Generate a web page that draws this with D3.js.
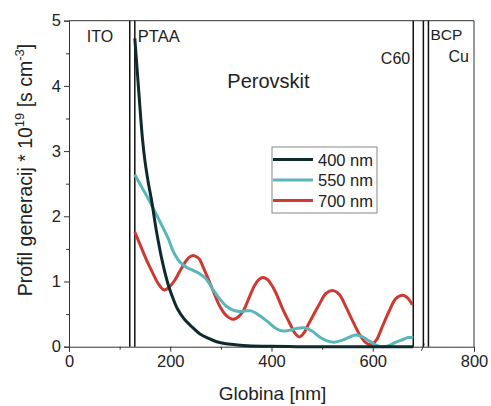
<!DOCTYPE html>
<html>
<head>
<meta charset="utf-8">
<script src="https://cdn.jsdelivr.net/npm/d3@7"></script>
<style>
  body { margin: 0; background: #fff; }
  svg text { font-family: "Liberation Sans", Arial, sans-serif; fill: #222; }
</style>
</head>
<body>
<script>
// depth [nm] and generation profile values
const depth400 = [130, 137, 145, 150, 157, 163, 173, 186, 196, 205, 215, 228, 242, 258, 275, 290, 307, 330, 353, 400, 450, 500, 680];
const gen400 = [4.73, 4.0, 3.2, 2.85, 2.5, 2.25, 1.76, 1.25, 0.95, 0.75, 0.57, 0.42, 0.31, 0.2, 0.13, 0.08, 0.05, 0.03, 0.015, 0.005, 0.001, 0, 0];

const depth550 = [130, 145, 160, 173, 186, 196, 206, 219, 232, 245, 258, 271, 284, 297, 311, 324, 337, 350, 360, 372, 383, 396, 409, 422, 435, 449, 465, 480, 495, 510, 524, 540, 555, 567, 580, 595, 608, 620, 633, 646, 660, 670, 680];
const gen550 = [2.64, 2.43, 2.22, 2.02, 1.82, 1.66, 1.46, 1.30, 1.22, 1.17, 1.12, 1.04, 0.88, 0.74, 0.62, 0.56, 0.54, 0.55, 0.55, 0.50, 0.44, 0.36, 0.28, 0.24, 0.25, 0.28, 0.29, 0.24, 0.15, 0.09, 0.07, 0.10, 0.15, 0.18, 0.15, 0.08, 0.02, 0.0, 0.02, 0.07, 0.11, 0.14, 0.14];

const depth700 = [130, 146, 156, 166, 176, 188, 199, 209, 219, 229, 237, 245, 252, 258, 265, 275, 284, 296, 307, 317, 326, 335, 345, 353, 366, 375, 383, 392, 400, 409, 422, 436, 446, 455, 464, 472, 481, 495, 508, 522, 534, 547, 560, 573, 585, 596, 607, 619, 632, 646, 659, 670, 678];
const gen700 = [1.76, 1.46, 1.28, 1.12, 0.97, 0.87, 0.92, 1.02, 1.16, 1.29, 1.37, 1.40, 1.38, 1.34, 1.22, 1.04, 0.87, 0.65, 0.51, 0.44, 0.42, 0.46, 0.56, 0.70, 0.93, 1.03, 1.06, 1.03, 0.95, 0.82, 0.58, 0.36, 0.21, 0.15, 0.21, 0.33, 0.46, 0.66, 0.82, 0.86, 0.80, 0.61, 0.40, 0.20, 0.07, 0.03, 0.10, 0.31, 0.54, 0.74, 0.79, 0.74, 0.64];

const seriesNames = ['400 nm', '550 nm', '700 nm'];
const seriesColors = ['#0f2a2c', '#5ab6bb', '#cc3a33'];

const layerBounds = [120, 130, 680, 700, 710];
const xTicks = [0, 200, 400, 600, 800];
const xMinor = [100, 300, 500];
const yTicks = [0, 1, 2, 3, 4, 5];
const yMinor = [0.5, 1.5, 2.5, 3.5, 4.5];

const W = 491, H = 406;
const margin = { top: 20.7, right: 17, bottom: 59.3, left: 69 };
const width = W - margin.left - margin.right;
const height = H - margin.top - margin.bottom;

const svg = d3.select('body').append('svg')
    .attr('width', W)
    .attr('height', H);

const g = svg.append('g')
    .attr('transform', `translate(${margin.left},${margin.top})`);

const x = d3.scaleLinear().domain([0, 800]).range([0, width]);
const y = d3.scaleLinear().domain([0, 5]).range([height, 0]);

const axisColor = '#333';

// frame top + right
g.append('line').attr('x1', 0).attr('x2', width).attr('y1', 0).attr('y2', 0)
    .attr('stroke', axisColor).attr('stroke-width', 1);
g.append('line').attr('x1', width).attr('x2', width).attr('y1', 0).attr('y2', height)
    .attr('stroke', axisColor).attr('stroke-width', 1);

// axes
const xAxis = g.append('g')
    .attr('transform', `translate(0,${height})`)
    .call(d3.axisBottom(x).tickValues(xTicks).tickSize(5).tickPadding(4).tickFormat(d3.format('d')));
xAxis.selectAll('text').style('font-size', '16.5px');
g.append('g')
    .attr('transform', `translate(0,${height})`)
    .call(d3.axisBottom(x).tickValues(xMinor).tickSize(3).tickFormat(''))
    .select('.domain').remove();

const yAxis = g.append('g')
    .call(d3.axisLeft(y).tickValues(yTicks).tickSize(5).tickPadding(3).tickFormat(d3.format('d')));
yAxis.selectAll('text').style('font-size', '16.5px');
g.append('g')
    .call(d3.axisLeft(y).tickValues(yMinor).tickSize(3).tickFormat(''))
    .select('.domain').remove();

g.selectAll('.domain, .tick line').attr('stroke', axisColor);
g.selectAll('.tick text').attr('fill', '#222');

// axis break mark near 700
g.append('line')
    .attr('x1', x(700) - 2).attr('x2', x(700) + 1)
    .attr('y1', height + 4).attr('y2', height - 3)
    .attr('stroke', axisColor).attr('stroke-width', 1);

// layer boundaries
g.selectAll('.layer')
    .data(layerBounds)
    .enter().append('line')
    .attr('class', 'layer')
    .attr('x1', d => x(d)).attr('x2', d => x(d))
    .attr('y1', 0).attr('y2', height)
    .attr('stroke', '#111').attr('stroke-width', 1.5);

// curves
const seriesData = [
    d3.zip(depth400, gen400),
    d3.zip(depth550, gen550),
    d3.zip(depth700, gen700)
];
const line = d3.line()
    .x(d => x(d[0]))
    .y(d => y(d[1]))
    .curve(d3.curveCatmullRom.alpha(0.5));

// draw red, teal, then black on top
[2, 1, 0].forEach(i => {
    g.append('path')
        .datum(seriesData[i])
        .attr('fill', 'none')
        .attr('stroke', seriesColors[i])
        .attr('stroke-width', 3)
        .attr('stroke-linejoin', 'round')
        .attr('d', line);
});

// layer labels
const labels = [
    { t: 'ITO', x: 35, y: 4.67, anchor: 'start', size: 16 },
    { t: 'PTAA', x: 136, y: 4.67, anchor: 'start', size: 16.5 },
    { t: 'Perovskit', x: 394, y: 3.97, anchor: 'middle', size: 20 },
    { t: 'C60', x: 674, y: 4.34, anchor: 'end', size: 16 },
    { t: 'BCP', x: 714, y: 4.70, anchor: 'start', size: 15.5 },
    { t: 'Cu', x: 790, y: 4.36, anchor: 'end', size: 16 }
];
g.selectAll('.lbl')
    .data(labels)
    .enter().append('text')
    .attr('class', 'lbl')
    .attr('x', d => x(d.x))
    .attr('y', d => y(d.y))
    .attr('text-anchor', d => d.anchor)
    .style('font-size', d => d.size + 'px')
    .text(d => d.t);

// legend
const legend = svg.append('g').attr('transform', 'translate(272,147)');
legend.append('rect')
    .attr('width', 105).attr('height', 66)
    .attr('fill', '#fff').attr('stroke', '#888').attr('stroke-width', 1);
seriesNames.forEach((name, i) => {
    const ly = 12.5 + i * 20.5;
    legend.append('line')
        .attr('x1', 1).attr('x2', 41)
        .attr('y1', ly).attr('y2', ly)
        .attr('stroke', seriesColors[i]).attr('stroke-width', 3);
    legend.append('text')
        .attr('x', 46).attr('y', ly + 6)
        .style('font-size', '16.5px')
        .text(name);
});

// axis titles
svg.append('text')
    .attr('x', margin.left + width / 2 + 1)
    .attr('y', 400)
    .attr('text-anchor', 'middle')
    .style('font-size', '19px')
    .text('Globina [nm]');

const yt = svg.append('text')
    .attr('transform', `translate(32,${170}) rotate(-90)`)
    .attr('text-anchor', 'middle')
    .style('font-size', '19.5px');
yt.append('tspan').text('Profil generacij * 10');
yt.append('tspan').attr('dy', -8).style('font-size', '13px').text('19');
yt.append('tspan').attr('dy', 8).text(' [s cm');
yt.append('tspan').attr('dy', -8).style('font-size', '13px').text('-3');
yt.append('tspan').attr('dy', 8).text(']');
</script>
</body>
</html>
